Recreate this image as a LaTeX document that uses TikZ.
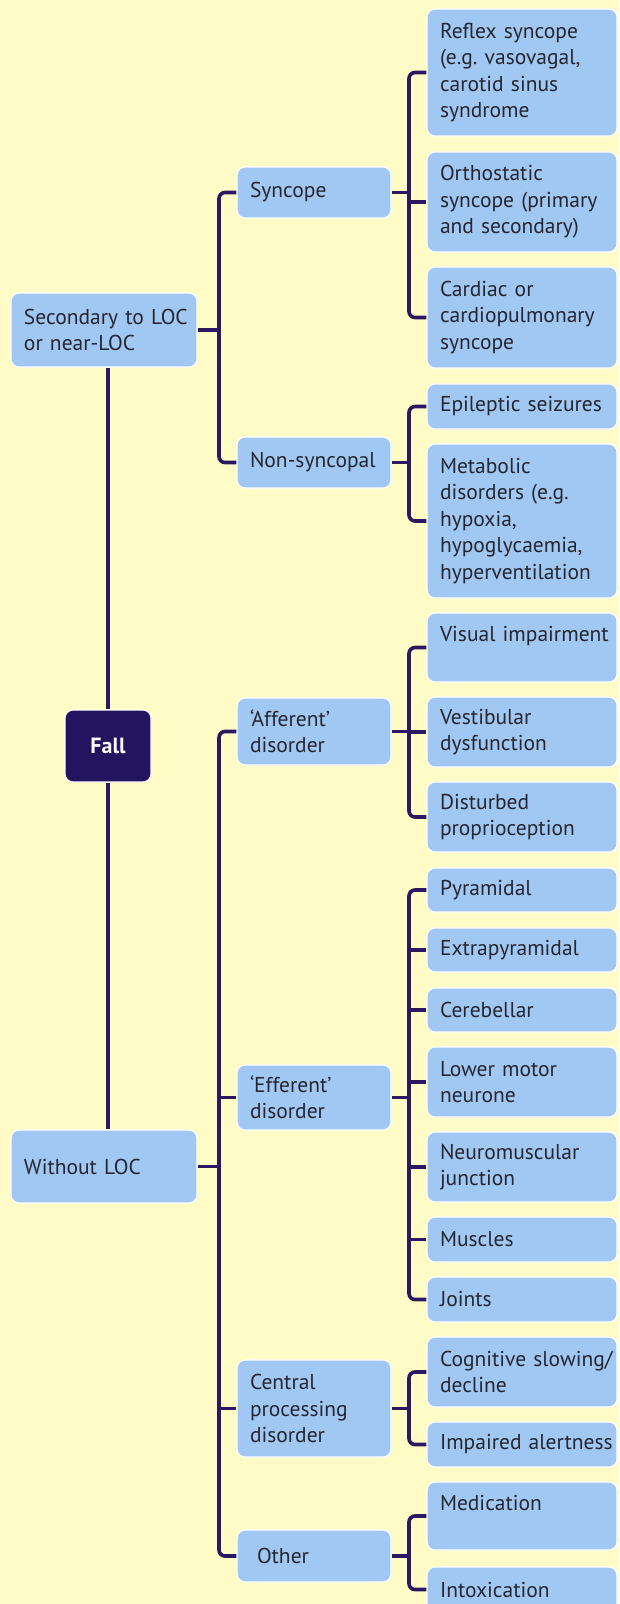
\documentclass[tikz,border=0pt]{standalone}
\usepackage{fontspec}
\setmainfont{PT Sans}
\frenchspacing
\definecolor{bgc}{RGB}{255,251,199}
\definecolor{boxc}{RGB}{160,200,242}
\definecolor{linec}{RGB}{42,24,98}
\definecolor{fallc}{RGB}{36,20,96}
\definecolor{txtc}{RGB}{38,38,48}
\begin{document}
\begin{tikzpicture}[x=1pt,y=-1pt,
  box/.style={rectangle, rounded corners=8pt, fill=boxc, draw=white, line width=1.2pt,
    inner xsep=0pt, inner ysep=0pt, align=left, text=txtc,
    font=\fontsize{21.5}{26.5}\selectfont\frenchspacing,
    execute at begin node={\leftskip=13pt}},
  leaf/.style={box, text width=190pt, minimum width=190pt},
  mid/.style={box, text width=154pt, minimum width=154pt},
  topb/.style={box, text width=186pt, minimum width=186pt},
  fallbox/.style={rectangle, rounded corners=8pt, fill=fallc, draw=white, line width=1.2pt,
    minimum width=86pt, minimum height=72pt, text=white,
    font=\fontsize{22}{24}\selectfont\bfseries},
  conn/.style={draw=linec, line width=3.6pt, rounded corners=6pt}]
\useasboundingbox (0,0) rectangle (619,1604);
\clip (0,0) rectangle (619,1604);
\fill[bgc] (0,0) rectangle (619,1604);

\coordinate (bx) at (219,0);
\coordinate (rx) at (409,0);

% top level
\node[topb, minimum height=74pt] (sec) at (104,330) {Secondary to LOC\\or near-LOC};
\node[fallbox] (fall) at (108,746) {Fall};
\node[topb, minimum height=73pt] (wo) at (104,1166.5) {Without LOC};

% mid level
\node[mid, minimum height=51pt] (syn) at (314,192.5) {Syncope};
\node[mid, minimum height=51pt] (non) at (314,462.5) {Non-syncopal};
\node[mid, minimum height=67pt] (aff) at (314,731.5) {‘Afferent’\\disorder};
\node[mid, minimum height=65pt] (eff) at (314,1097.5) {‘Efferent’\\disorder};
\node[mid, minimum height=97pt] (cen) at (314,1408.5) {Central\\processing\\disorder};
\node[mid, minimum height=52pt] (oth) at (314,1556) {\hspace*{7pt}Other};

% leaves
\node[leaf, minimum height=127pt] (l1) at (522,72.5) {Reflex syncope\\(e.g. vasovagal,\\carotid sinus\\syndrome};
\node[leaf, minimum height=100pt] (l2) at (522,202) {Orthostatic\\syncope (primary\\and secondary)};
\node[leaf, minimum height=101pt] (l3) at (522,317.5) {Cardiac or\\cardiopulmonary\\syncope};
\node[leaf, minimum height=45pt] (l4) at (522,406.5) {Epileptic seizures};
\node[leaf, minimum height=154pt] (l5) at (522,521) {Metabolic\\disorders (e.g.\\hypoxia,\\hypoglycaemia,\\hyperventilation};
\node[leaf, minimum height=69pt] (l6) at (522,647.5) {Visual impairment\\\mbox{}};
\node[leaf, minimum height=70pt] (l7) at (522,732) {Vestibular\\dysfunction};
\node[leaf, minimum height=70pt] (l8) at (522,817) {Disturbed\\proprioception};
\node[leaf, minimum height=44pt] (l9) at (522,890) {Pyramidal};
\node[leaf, minimum height=44pt] (l10) at (522,950) {Extrapyramidal};
\node[leaf, minimum height=44pt] (l11) at (522,1010) {Cerebellar};
\node[leaf, minimum height=70pt] (l12) at (522,1082) {Lower motor\\neurone};
\node[leaf, minimum height=70pt] (l13) at (522,1167) {Neuromuscular\\junction};
\node[leaf, minimum height=45pt] (l14) at (522,1239.5) {Muscles};
\node[leaf, minimum height=45pt] (l15) at (522,1299.5) {Joints};
\node[leaf, minimum height=70pt] (l16) at (522,1372) {Cognitive slowing/\\decline};
\node[leaf, minimum height=45pt] (l17) at (522,1444.5) {Impaired alertness};
\node[leaf, minimum height=68pt] (l18) at (522,1516) {Medication\\\mbox{}};
\node[leaf, minimum height=45pt] (l19) at (522,1589.5) {Intoxication};

% trunk
\draw[conn] (sec.south -| fall.north) -- (fall.north);
\draw[conn] (fall.south) -- (fall.south |- wo.north);

% upper branch
\draw[conn] (syn.west) -- (bx |- syn.west) -- (bx |- non.west) -- (non.west);
\draw[conn] (sec.east) -- (bx |- sec.east);

% lower branch
\draw[conn] (aff.west) -- (bx |- aff.west) -- (bx |- oth.west) -- (oth.west);
\draw[conn] (wo.east) -- (bx |- wo.east);
\draw[conn] (bx |- eff.west) -- (eff.west);
\draw[conn] (bx |- cen.west) -- (cen.west);

% syncope bracket
\draw[conn] (l1.west) -- (rx |- l1.west) -- (rx |- l3.west) -- (l3.west);
\draw[conn] (syn.east) -- (rx |- syn.east);
\draw[conn] (rx |- l2.west) -- (l2.west);

% non-syncopal bracket
\draw[conn] (l4.west) -- (rx |- l4.west) -- (rx |- l5.west) -- (l5.west);
\draw[conn] (non.east) -- (rx |- non.east);

% afferent bracket
\draw[conn] (l6.west) -- (rx |- l6.west) -- (rx |- l8.west) -- (l8.west);
\draw[conn] (aff.east) -- (rx |- aff.east);
\draw[conn] (rx |- l7.west) -- (l7.west);

% efferent bracket
\draw[conn] (l9.west) -- (rx |- l9.west) -- (rx |- l15.west) -- (l15.west);
\draw[conn] (eff.east) -- (rx |- eff.east);
\foreach \n in {l10,l11,l12,l13,l14} \draw[conn] (rx |- \n.west) -- (\n.west);

% central bracket
\draw[conn] (l16.west) -- (rx |- l16.west) -- (rx |- l17.west) -- (l17.west);
\draw[conn] (cen.east) -- (rx |- cen.east);

% other bracket
\draw[conn] (l18.west) -- (rx |- l18.west) -- (rx |- l19.west) -- (l19.west);
\draw[conn] (oth.east) -- (rx |- oth.east);
\end{tikzpicture}
\end{document}
